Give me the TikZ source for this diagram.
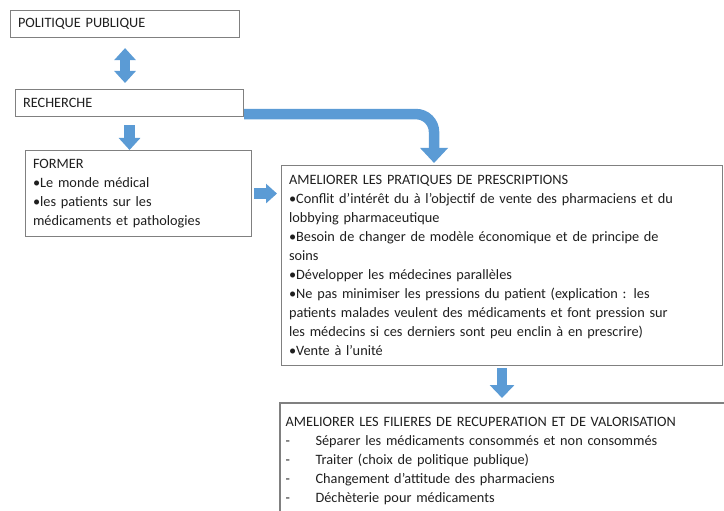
\documentclass[tikz,border=0pt]{standalone}
\usepackage{fontspec}
\setmainfont{Carlito}
\usetikzlibrary{arrows.meta}
\definecolor{arrowblue}{HTML}{5B9BD5}
\definecolor{framegray}{HTML}{808080}
\tikzset{
  txtbox/.style={draw=framegray, line width=1.1pt, anchor=north west, align=left,
    inner xsep=7.5pt, inner ysep=6pt, text=black!88,
    font=\fontsize{14.3}{19}\selectfont},
  flow/.style={draw=arrowblue, line width=10.5pt, -{Triangle[width=24pt,length=13pt]}},
}
\begin{document}
\begin{tikzpicture}[x=1pt,y=-1pt]
\useasboundingbox (0,0) rectangle (724,511);
\clip (0,0) rectangle (724,511);

% boxes
\node[txtbox, text width=214pt, minimum height=27pt] (pp) at (10,10) {POLITIQUE PUBLIQUE};
\node[txtbox, text width=213pt, minimum height=27pt] (rech) at (15,89) {RECHERCHE};
\node[txtbox, text width=211pt, minimum height=86pt] (former) at (25,150)
  {FORMER\\ •Le monde médical\\ •les patients sur les\\ médicaments et pathologies};
\node[txtbox, text width=426pt, minimum height=200pt] (pratiques) at (281,165)
  {AMELIORER LES PRATIQUES DE PRESCRIPTIONS\\
   •Conflit d’intérêt du à l’objectif de vente des pharmaciens et du\\
   lobbying pharmaceutique\\
   •Besoin de changer de modèle économique et de principe de\\
   soins\\
   •Développer les médecines parallèles\\
   •Ne pas minimiser les pressions du patient (explication : les\\
   patients malades veulent des médicaments et font pression sur\\
   les médecins si ces derniers sont peu enclin à en prescrire)\\
   •Vente à l’unité};
\node[txtbox, draw=none, text width=434pt, inner xsep=5pt, inner ysep=14pt] (filieres) at (280,403)
  {AMELIORER LES FILIERES DE RECUPERATION ET DE VALORISATION\\
   \makebox[30pt][l]{-}Séparer les médicaments consommés et non consommés\\
   \makebox[30pt][l]{-}Traiter (choix de politique publique)\\
   \makebox[30pt][l]{-}Changement d’attitude des pharmaciens\\
   \makebox[30pt][l]{-}Déchèterie pour médicaments};
\draw[framegray, line width=1.1pt] (filieres.south west) |- (filieres.north east);

% arrows
\draw[flow, {Triangle[width=21pt,length=12pt]}-{Triangle[width=21pt,length=12pt]},
  shorten <=10pt, shorten >=6pt] (pp.south) -- (pp.south |- rech.north);
\draw[flow, -{Triangle[width=21pt,length=12pt]}, shorten <=8pt] (rech.south) -- (rech.south |- former.north);
\draw[flow, -{Triangle[width=19pt,length=11pt]}, shorten <=2pt, shorten >=4pt]
  (former.east) -- (former.east -| pratiques.west);
\draw[flow, -{Triangle[width=27pt,length=15pt]}, rounded corners=18pt, shorten >=2pt]
  ([yshift=3pt]rech.south east) -| ([xshift=-68pt]pratiques.north);
\draw[flow, shorten <=2pt, shorten >=5pt] (pratiques.south) -- (pratiques.south |- filieres.north);

\end{tikzpicture}
\end{document}
